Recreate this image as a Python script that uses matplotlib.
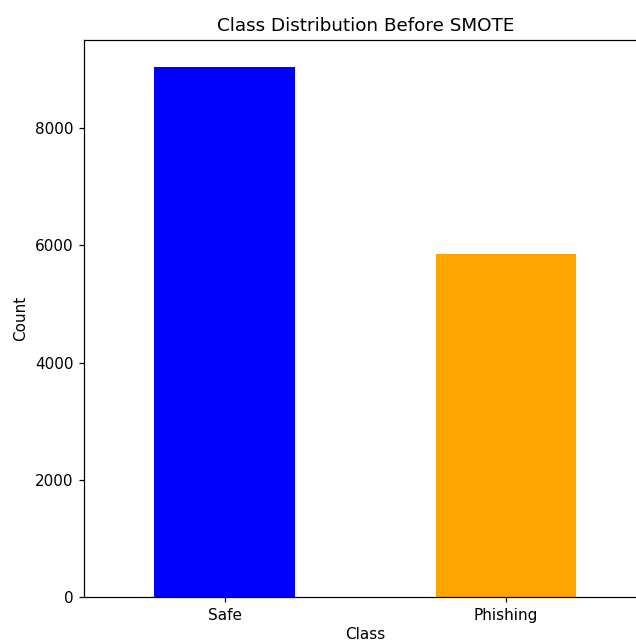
import matplotlib.pyplot as plt

classes = ["Safe", "Phishing"]
counts = [9050, 5850]
colors = ["blue", "orange"]

# original looks rendered at ~110 dpi
fig = plt.figure(figsize=(636/110, 642/110), dpi=110)
# axes runs slightly past the right edge, like the cropped original
ax = fig.add_axes([84/636, 45/642, 562.5/636, 557/642])
ax.bar(range(len(classes)), counts, width=0.5, color=colors)
ax.set_xlim(-0.5, 1.5)
ax.set_xticks(range(len(classes)))
ax.set_xticklabels(classes)
ax.set_title("Class Distribution Before SMOTE")
ax.set_xlabel("Class", labelpad=2.5)
ax.set_ylabel("Count")

fig.savefig("out.png", dpi=110)
